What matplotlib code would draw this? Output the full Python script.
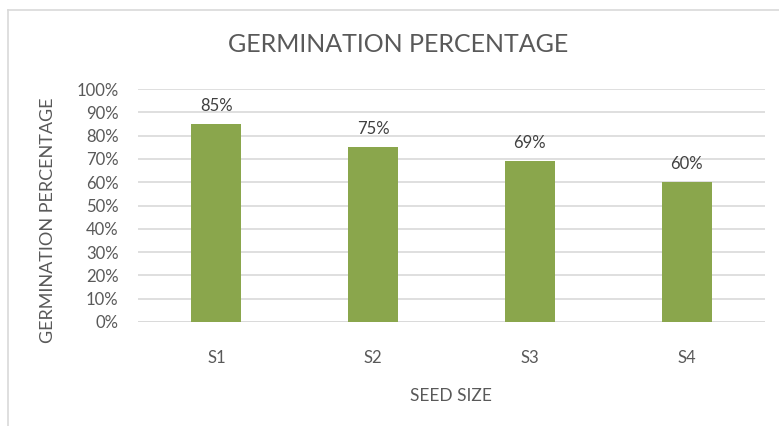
import matplotlib
matplotlib.use("Agg")
import matplotlib.pyplot as plt
from matplotlib.ticker import FuncFormatter, MultipleLocator

categories = ["S1", "S2", "S3", "S4"]
values = [85, 75, 69, 60]
value_labels = ["85%", "75%", "69%", "60%"]

TEXT = "#595959"
GRID = "#D9D9D9"
BAR = "#8AA64C"
plt.rcParams['font.family'] = ['Lato', 'DejaVu Sans']

W, H = 779, 426
fig = plt.figure(figsize=(W / 100, H / 100), dpi=100)
fig.patch.set_facecolor("white")

# chart border (top and left visible)
fig.add_artist(plt.Line2D([8 / W, 1.0], [1 - 10 / H, 1 - 10 / H], color="#D9D9D9", lw=1.2, transform=fig.transFigure))
fig.add_artist(plt.Line2D([8 / W, 8 / W], [0, 1 - 10 / H], color="#D9D9D9", lw=1.2, transform=fig.transFigure))

left, right = 138, 765
top, bottom = 89, 322
ax = fig.add_axes([left / W, 1 - bottom / H, (right - left) / W, (bottom - top) / H])
x = range(len(categories))
ax.bar(x, values, width=0.32, color=BAR, zorder=3)
ax.set_xlim(-0.5, len(categories) - 0.5)
ax.set_ylim(0, 100)
ax.yaxis.set_major_locator(MultipleLocator(10))
ax.yaxis.set_major_formatter(FuncFormatter(lambda v, p: f"{int(round(v))}%"))
ax.grid(axis="y", color=GRID, lw=1.2, zorder=0)
for s in ax.spines.values():
    s.set_visible(False)
ax.axhline(0, color=GRID, lw=1.2, zorder=2)
ax.set_xticks(list(x))
ax.set_xticklabels(categories)
ax.tick_params(axis="both", length=0, labelsize=12, colors=TEXT)
ax.tick_params(axis="x", pad=20)
ax.tick_params(axis="y", pad=14)

for xi, v, lab in zip(x, values, value_labels):
    ax.annotate(lab, (xi, v), xytext=(0, 13), textcoords="offset points",
                ha="center", va="center", fontsize=12, color="#404040")

fig.text(398 / W, 1 - 45 / H, "GERMINATION PERCENTAGE", ha="center", va="center", fontsize=18, color=TEXT)
fig.text(48 / W, 1 - 220 / H, "GERMINATION PERCENTAGE", ha="center", va="center", rotation=90, fontsize=13, color=TEXT)
fig.text(451 / W, 1 - 396 / H, "SEED SIZE", ha="center", va="center", fontsize=12.5, color=TEXT)

fig.savefig("out.png", dpi=100, facecolor="white")
